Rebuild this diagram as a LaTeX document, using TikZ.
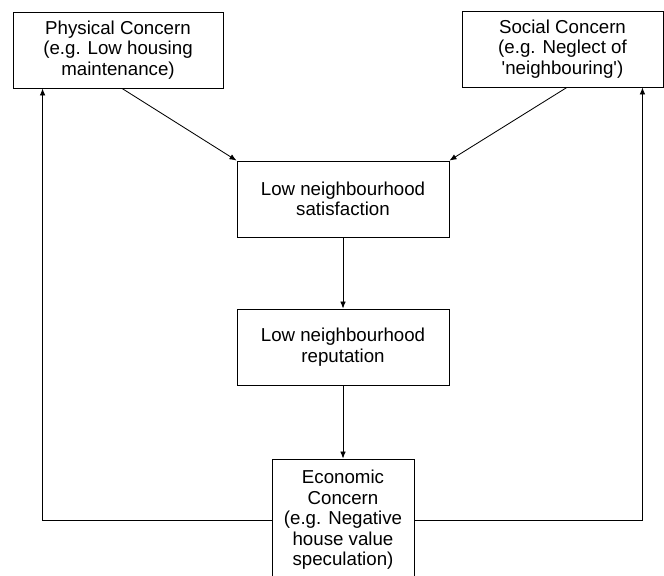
\documentclass[tikz,border=0pt]{standalone}
\usepackage{fontspec}
\setmainfont{Liberation Sans}
\usetikzlibrary{arrows.meta}

\begin{document}
\begin{tikzpicture}[x=0.025cm, y=-0.025cm, >={Latex[length=5pt, width=4pt]}, line width=0.6pt,
    box/.style={draw, align=center, inner sep=0pt, font=\fontsize{13.3}{14.6}\selectfont}]
                \useasboundingbox (0,0) rectangle (664,576);

                \node[box, minimum width=5.25cm, minimum height=1.9cm] (phys) at (118,50) {Physical Concern\\(e.g. Low housing\\maintenance)};
                \node[box, minimum width=5.025cm, minimum height=1.9cm] (soc) at (562.5,49) {Social Concern\\(e.g. Neglect of\\\textquotesingle neighbouring\textquotesingle)};
                \node[box, minimum width=5.3cm, minimum height=1.9cm] (sat) at (343,199) {Low neighbourhood\\satisfaction};
                \node[box, minimum width=5.3cm, minimum height=1.9cm] (rep) at (343,347) {Low neighbourhood\\reputation};
                \node[box, minimum width=3.55cm, minimum height=3.05cm] (econ) at (343,520) {Economic\\Concern\\(e.g. Negative\\house value\\speculation)};

                \coordinate (physout) at ([xshift=0.1cm]phys.south);
                \coordinate (socout) at ([xshift=0.11cm]soc.south);
                \coordinate (physin) at ([xshift=0.75cm]phys.south west);
                \coordinate (socin) at ([xshift=-0.525cm]soc.south east);

                \draw[->] (physout) -- (sat.north west);
                \draw[->] (socout) -- (sat.north east);
                \draw[->] (sat) -- (rep);
                \draw[->] (rep) -- (econ);
                \draw[->] (econ.west) -| (physin);
                \draw[->] (econ.east) -| (socin);
            \end{tikzpicture}
\end{document}
